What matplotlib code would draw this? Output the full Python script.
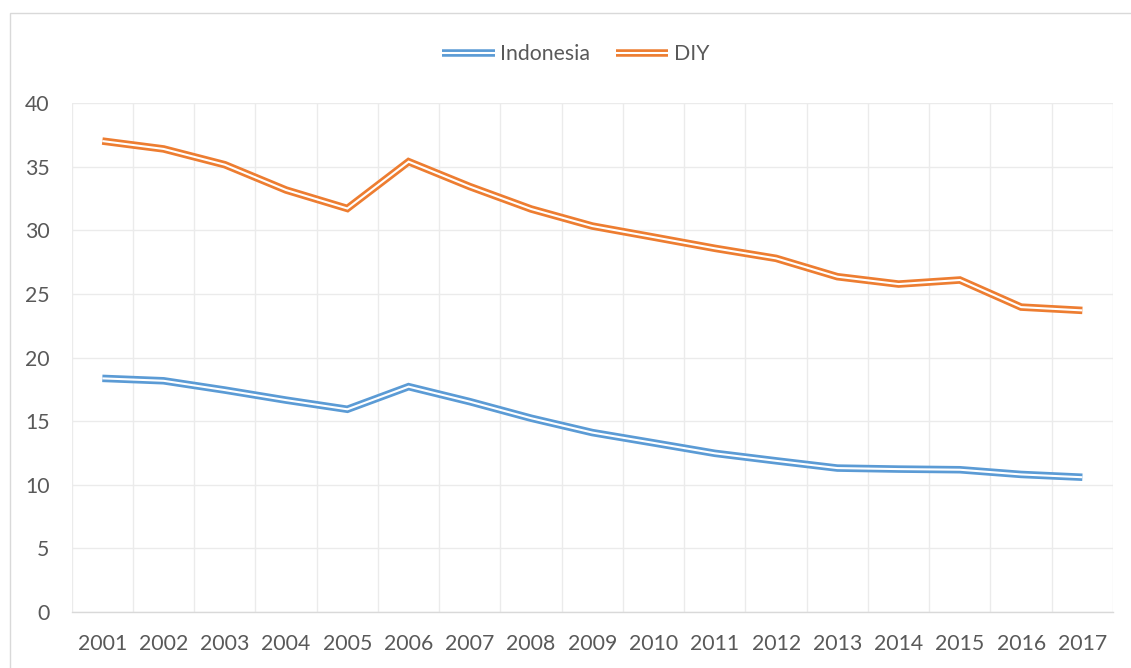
import matplotlib
matplotlib.use("Agg")
import matplotlib.pyplot as plt
import matplotlib.patheffects as pe
from matplotlib.patches import Rectangle
import numpy as np

years = ["2001", "2002", "2003", "2004", "2005", "2006", "2007", "2008", "2009",
         "2010", "2011", "2012", "2013", "2014", "2015", "2016", "2017"]
indonesia = [18.36, 18.17, 17.44, 16.65, 15.93, 17.71, 16.53, 15.23, 14.10,
             13.29, 12.47, 11.88, 11.31, 11.23, 11.18, 10.81, 10.59]
diy = [37.01, 36.39, 35.15, 33.16, 31.71, 35.39, 33.43, 31.67, 30.33,
       29.46, 28.58, 27.79, 26.35, 25.77, 26.09, 23.96, 23.70]
y_ticks = [0, 5, 10, 15, 20, 25, 30, 35, 40]

W, H = 1131, 668
fig = plt.figure(figsize=(W / 100, H / 100), dpi=100)
fig.patch.set_facecolor("white")

# chart frame
fig.patches.append(Rectangle((10 / W, -0.1), 1.2, (H - 13) / H + 0.1,
                             transform=fig.transFigure, fill=False,
                             edgecolor="#D9D9D9", linewidth=1.0))

ax = fig.add_axes([71.7 / W, 1 - 612 / H, (1113 - 71.7) / W, (612 - 103) / H])

font = "Lato"
fs = 15.3
txt = "#595959"
blue = "#5B9BD5"
orange = "#ED7D31"
grid_c = "#EBEBEB"

x = np.arange(len(years))

def double(color):
    return [pe.Stroke(linewidth=5.4, foreground=color),
            pe.Stroke(linewidth=1.5, foreground="white")]

ax.plot(x, indonesia, color=blue, lw=5.4, label="Indonesia",
        path_effects=double(blue), solid_joinstyle="miter", solid_capstyle="butt", zorder=3)
ax.plot(x, diy, color=orange, lw=5.4, label="DIY",
        path_effects=double(orange), solid_joinstyle="miter", solid_capstyle="butt", zorder=3)

ax.set_xlim(-0.5, len(years) - 0.5)
ax.set_ylim(0, 40)
ax.set_yticks(y_ticks)
ax.set_yticklabels([str(v) for v in y_ticks], fontfamily=font, fontsize=fs, color=txt)
ax.set_xticks(x)
ax.set_xticklabels(years, fontfamily=font, fontsize=fs, color=txt)
ax.set_xticks(np.arange(-0.5, len(years), 1.0), minor=True)
ax.tick_params(axis="both", which="both", length=0)
ax.tick_params(axis="y", pad=16)
ax.tick_params(axis="x", pad=16)

ax.grid(True, axis="y", which="major", color=grid_c, lw=1.0, zorder=0)
ax.grid(True, axis="x", which="minor", color=grid_c, lw=1.0, zorder=0)
ax.grid(False, axis="x", which="major")
ax.set_axisbelow(True)

for s in ["top", "right", "left"]:
    ax.spines[s].set_visible(False)
ax.spines["bottom"].set_color("#D9D9D9")
ax.spines["bottom"].set_linewidth(1.0)

leg = fig.legend(loc="center", bbox_to_anchor=(576 / W, 1 - 54 / H), ncol=2,
                 frameon=False, prop={"family": font, "size": fs},
                 handlelength=2.45, handletextpad=0.28, columnspacing=1.2)
for t in leg.get_texts():
    t.set_color(txt)

fig.savefig("out.png", dpi=100, facecolor="white")
